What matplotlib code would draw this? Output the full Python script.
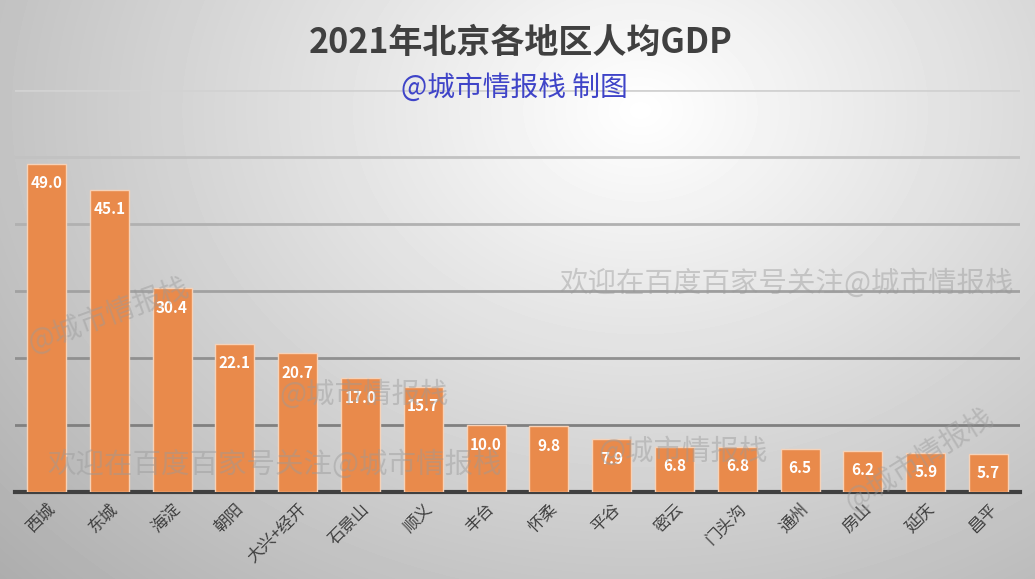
import matplotlib.pyplot as plt
import numpy as np

plt.rcParams['font.family'] = ['Noto Sans CJK SC', 'DejaVu Sans']

# 2021年北京各地区人均GDP (万元)
districts = ['西城', '东城', '海淀', '朝阳', '大兴+经开', '石景山', '顺义', '丰台',
             '怀柔', '平谷', '密云', '门头沟', '通州', '房山', '延庆', '昌平']
gdp = [49.0, 45.1, 30.4, 22.1, 20.7, 17.0, 15.7, 10.0,
       9.8, 7.9, 6.8, 6.8, 6.5, 6.2, 5.9, 5.7]

fig = plt.figure(figsize=(10.35, 5.79), dpi=100)

# radial grey background
bg = fig.add_axes([0, 0, 1, 1], zorder=-10)
yy, xx = np.mgrid[0:579, 0:1035]
r = np.sqrt(((xx - 640) / 900.0) ** 2 + ((yy - 110) / 700.0) ** 2)
shade = np.clip(1.0 - 0.33 * r, 0, 1)
bg.imshow(shade, cmap='gray', vmin=0, vmax=1, aspect='auto')
bg.axis('off')

ax = fig.add_axes([0.0145, 0.150, 0.971, 0.695])
ax.set_facecolor('none')

xpos = np.arange(len(districts))
bars = ax.bar(xpos, gdp, width=0.62, color='#E98A4B', edgecolor='#F6D2B8',
              linewidth=1, zorder=3)

for b, v in zip(bars, gdp):
    ax.annotate('%.1f' % v, (b.get_x() + b.get_width() / 2, v),
                xytext=(0, -14), textcoords='offset points',
                ha='center', va='center', color='white',
                fontsize=11, fontweight='bold', zorder=5)

ax.set_xlim(-0.5, len(districts) - 0.5)
ax.set_ylim(0, 60)
ax.set_yticks(np.arange(10, 61, 10))
ax.tick_params(axis='y', left=False, labelleft=False)
ax.tick_params(axis='x', length=0, pad=6)

# grid lines fading upward
for i, t in enumerate(ax.get_yticks()):
    g = 0.50 + 0.065 * i
    ax.axhline(t, color=(g, g, g), linewidth=2, zorder=1)

ax.set_xticks(xpos)
ax.set_xticklabels(districts, rotation=45, ha='right', rotation_mode='anchor',
                   fontsize=12, color='#404040')

for s in ['top', 'right', 'left']:
    ax.spines[s].set_visible(False)
ax.spines['bottom'].set_color('#404040')
ax.spines['bottom'].set_linewidth(3)

fig.text(0.503, 0.927, '2021年北京各地区人均GDP', ha='center', va='center',
         fontsize=24.5, fontweight='bold', color='#404040')
fig.text(0.497, 0.849, '@城市情报栈 制图', ha='center', va='center',
         fontsize=20, color='#3F44C8')

# watermarks
wm = dict(color='#9a9a9a', alpha=0.45, fontsize=20.5, zorder=20)
fig.text(0.265, 0.197, '欢迎在百度百家号关注@城市情报栈', ha='center', va='center', **wm)
fig.text(0.760, 0.510, '欢迎在百度百家号关注@城市情报栈', ha='center', va='center', **wm)
fig.text(0.105, 0.455, '@城市情报栈', ha='center', va='center', rotation=20, **wm)
fig.text(0.352, 0.318, '@城市情报栈', ha='center', va='center', **wm)
fig.text(0.660, 0.220, '@城市情报栈', ha='center', va='center', **wm)
fig.text(0.888, 0.205, '@城市情报栈', ha='center', va='center', rotation=32, **wm)

fig.savefig('out.png', dpi=100)
